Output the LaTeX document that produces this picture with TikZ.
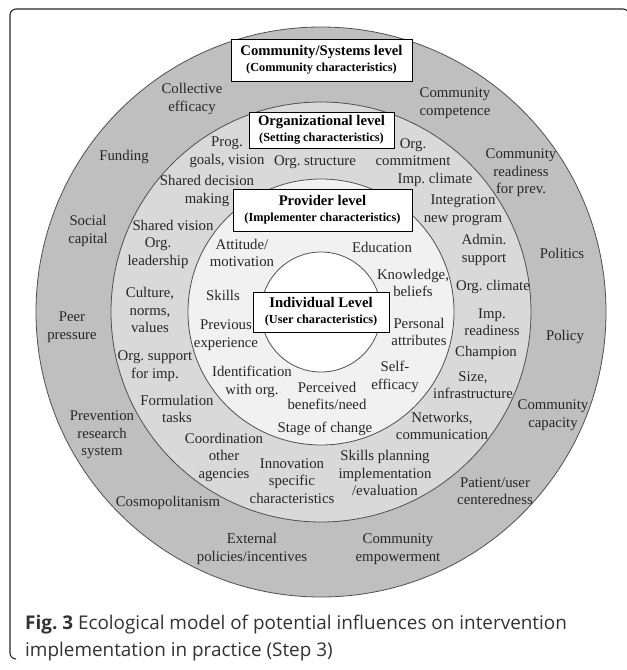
\documentclass[tikz,border=0pt]{standalone}
\usepackage{fontspec}
\setmainfont{Liberation Serif}
\newfontfamily\capfont{Open Sans}
\AtBeginDocument{\frenchspacing}
\definecolor{ringA}{RGB}{191,191,191}
\definecolor{ringB}{RGB}{217,217,217}
\definecolor{ringC}{RGB}{241,241,241}
\definecolor{ringline}{RGB}{80,80,80}
\definecolor{captext}{RGB}{50,50,50}
\begin{document}
\begin{tikzpicture}[x=1pt,y=-1pt,
  lbl/.style={align=center, font=\fontsize{14.8}{17.5}\selectfont, inner sep=0pt, text=black!85},
  lvl/.style={draw=black, fill=white, line width=0.8pt, align=center, inner sep=0pt,
    font=\bfseries\fontsize{12.3}{16}\selectfont},
  ring/.style={draw=ringline, line width=0.8pt}]
\useasboundingbox (0,0) rectangle (627,670);
% frame
\draw[line width=1.1pt, draw=black!85, rounded corners=6pt] (16,659) -- (10,659) -- (10,9) -- (629,9) -- (629,120);
% rings
\coordinate (c) at (321,312);
\fill[ringA] (c) circle[radius=285];
\draw[ring] (c) circle[radius=285];
\filldraw[ring, fill=ringB] (c) circle[radius=210];
\filldraw[ring, fill=ringC] (c) circle[radius=133];
\filldraw[ring, fill=white] (c) circle[radius=60];
% level boxes
\node[lvl, minimum width=181, minimum height=42] (comm) at (321.5,60)
  {{\fontsize{14.7}{16}\selectfont Community/Systems level}\\(Community characteristics)};
\node[lvl, minimum width=145, minimum height=36] (org) at (321.5,130)
  {{\fontsize{14.7}{15}\selectfont Organizational level}\\(Setting characteristics)};
\node[lvl, minimum width=179, minimum height=42] (prov) at (322.5,210)
  {{\fontsize{14.7}{16}\selectfont Provider level}\\(Implementer characteristics)};
\node[lvl, minimum width=136, minimum height=40] (ind) at (321,312)
  {{\fontsize{14.7}{16}\selectfont Individual Level}\\(User characteristics)};
% community ring
\node[lbl] (a1) at (192,99) {Collective\\efficacy};
\node[lbl] (a2) at (455,103) {Community\\competence};
\node[lbl] (a3) at (124,157) {Funding};
\node[lbl] (a4) at (521,173) {Community\\readiness\\for prev.};
\node[lbl] (a5) at (88,231) {Social\\capital};
\node[lbl] (a6) at (562,253) {Politics};
\node[lbl] (a7) at (72,327) {Peer\\pressure};
\node[lbl] (a8) at (565,337) {Policy};
\node[lbl] (a9) at (102,435) {Prevention\\research\\system};
\node[lbl] (a10) at (553,415) {Community\\capacity};
\node[lbl] (a11) at (168,503) {Cosmopolitanism};
\node[lbl] (a12) at (495,491) {Patient/user\\centeredness};
\node[lbl] (a13) at (252,549) {External\\policies/incentives};
\node[lbl] (a14) at (398,549) {Community\\empowerment};
% organizational ring
\node[lbl] (b1) at (227,152) {Prog.\\goals, vision};
\node[lbl] (b2) at (315,162) {Org. structure};
\node[lbl] (b3) at (413,152) {Org.\\commitment};
\node[lbl] (b4) at (435,180) {Imp. climate};
\node[lbl] (b5) at (207,191) {Shared decision\\making};
\node[lbl] (b6) at (463,210) {Integration\\new program};
\node[lbl] (b7) at (173,225) {Shared vision};
\node[lbl] (b8) at (158,253) {Org.\\leadership};
\node[lbl] (b9) at (484,250) {Admin.\\support};
\node[lbl] (b10) at (493,287) {Org. climate};
\node[lbl] (b11) at (150,310) {Culture,\\norms,\\values};
\node[lbl] (b12) at (492,322) {Imp.\\readiness};
\node[lbl] (b13) at (486,353) {Champion};
\node[lbl] (b14) at (155,366) {Org. support\\for imp.};
\node[lbl] (b15) at (473,385) {Size,\\infrastructure};
\node[lbl] (b16) at (177,409) {Formulation\\tasks};
\node[lbl] (b17) at (442,426) {Networks,\\communication};
\node[lbl] (b18) at (224,457) {Coordination\\other\\agencies};
\node[lbl] (b19) at (292,481) {Innovation\\specific\\characteristics};
\node[lbl] (b20) at (385,473) {Skills planning\\implementation\\/evaluation};
% provider ring
\node[lbl] (p1) at (242,253) {Attitude/\\motivation};
\node[lbl] (p2) at (382,247) {Education};
\node[lbl] (p3) at (413,283) {Knowledge,\\beliefs};
\node[lbl] (p4) at (223,295) {Skills};
\node[lbl] (p5) at (226,335) {Previous\\experience};
\node[lbl] (p6) at (419,332) {Personal\\attributes};
\node[lbl] (p7) at (252,382) {Identification\\with org.};
\node[lbl] (p8) at (395,377) {Self-\\efficacy};
\node[lbl] (p9) at (327,396) {Perceived\\benefits/need};
\node[lbl] (p10) at (325,429) {Stage of change};
% caption
\node[anchor=west, inner sep=0pt, text=captext, font=\capfont\fontsize{18.9}{27}\selectfont, align=left] (cap) at (25,638.5)
  {{\bfseries Fig. 3} Ecological model of potential influences on intervention\\implementation in practice (Step 3)};
\end{tikzpicture}
\end{document}
